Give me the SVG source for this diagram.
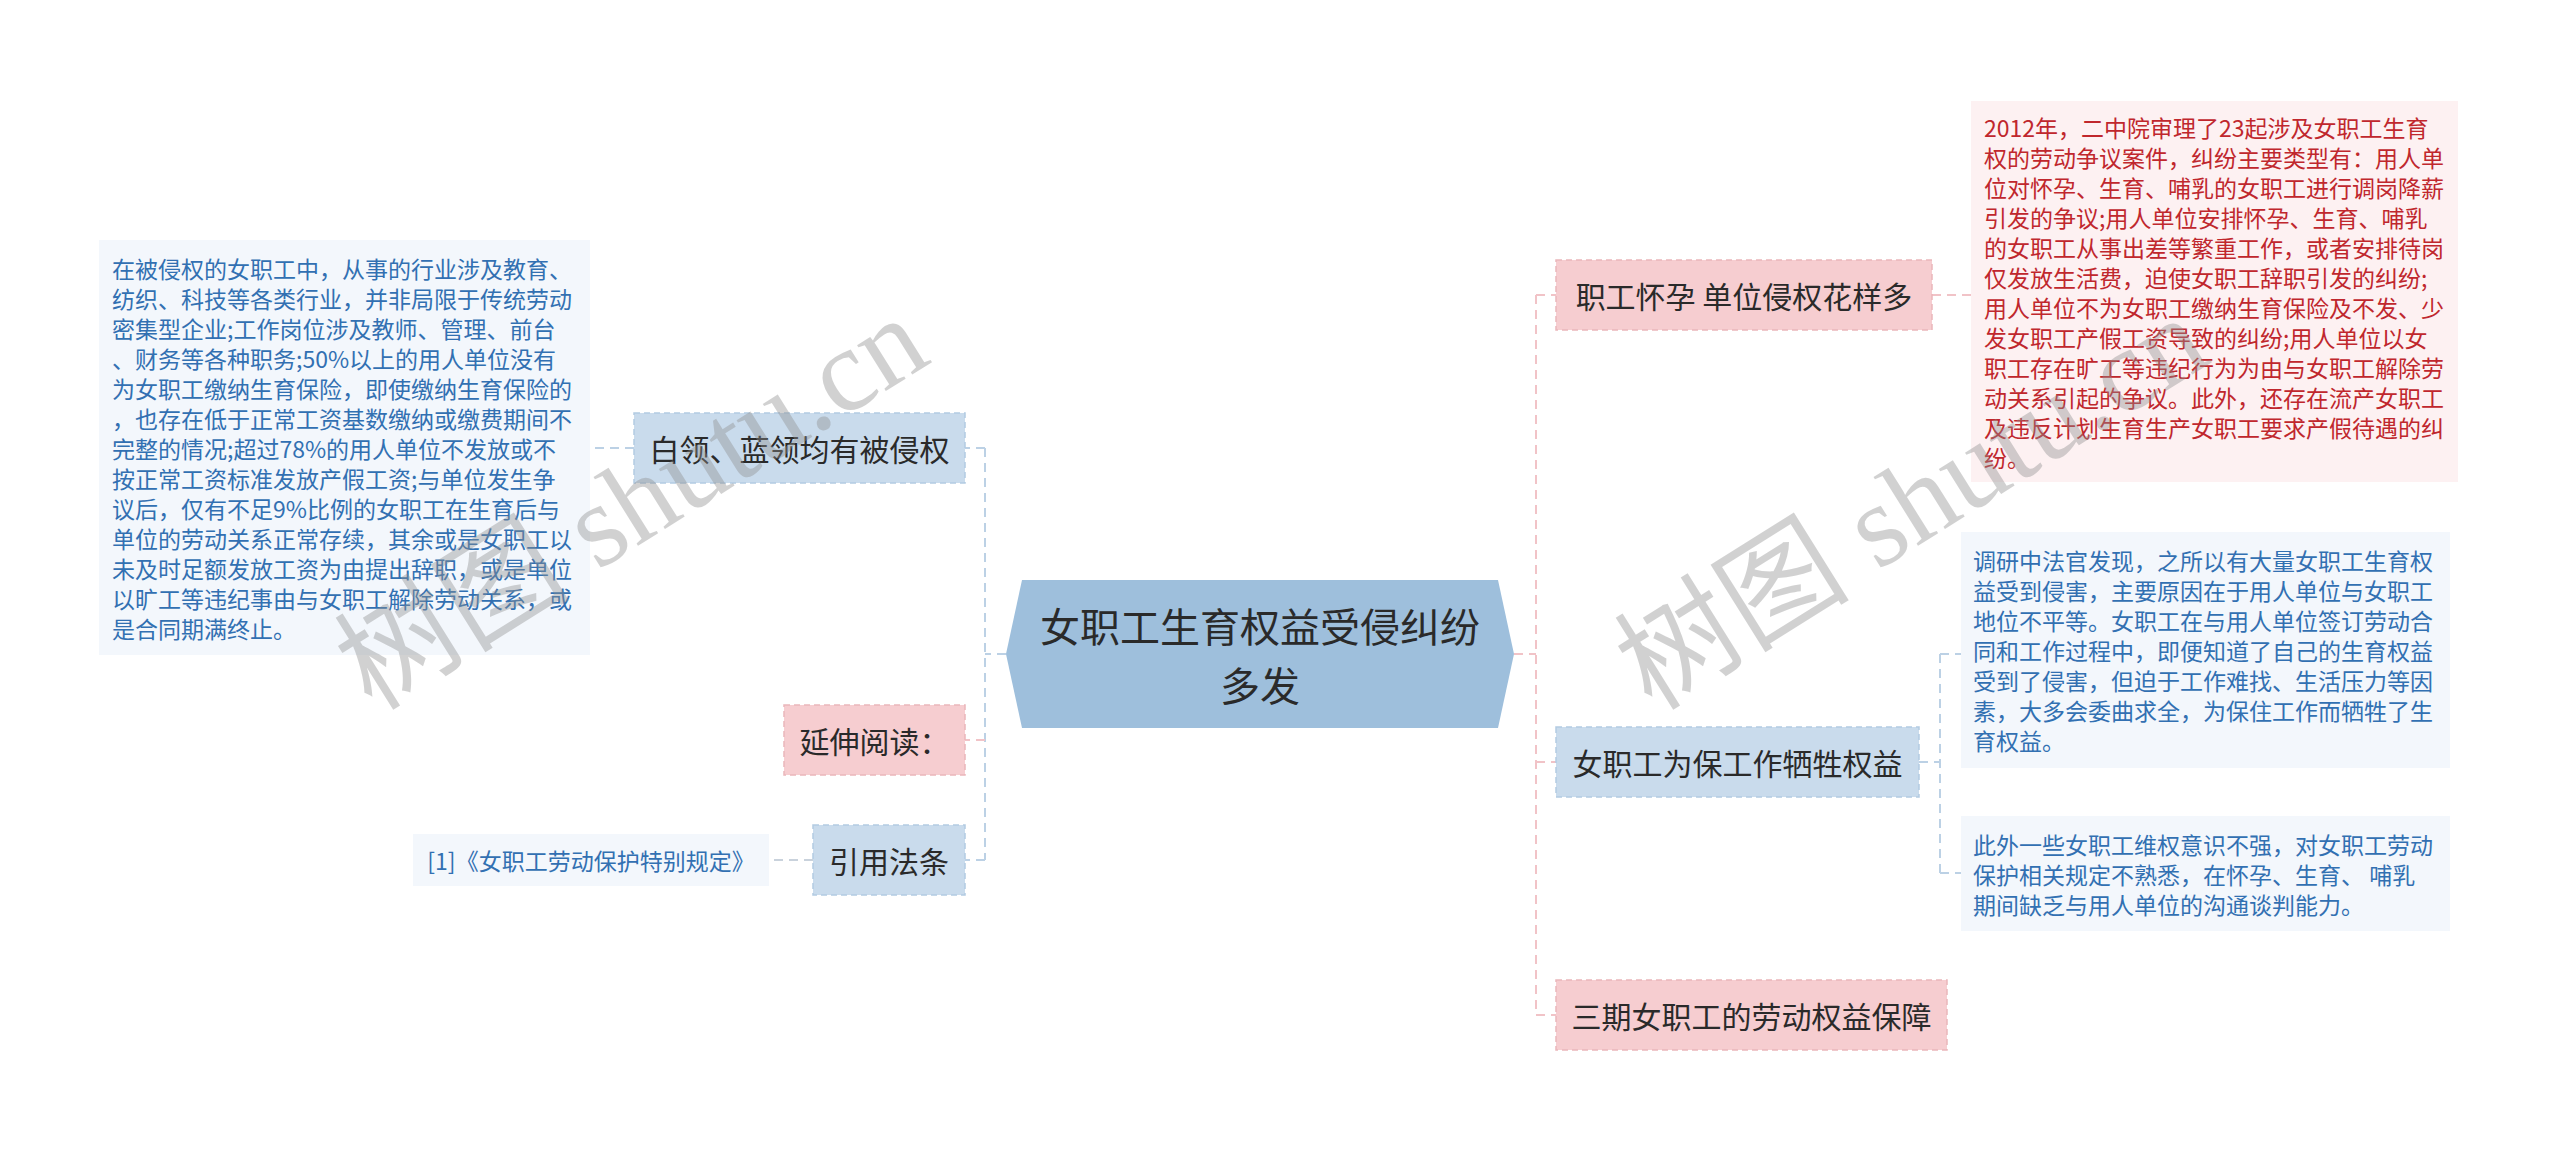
<svg xmlns="http://www.w3.org/2000/svg" width="2560" height="1151" viewBox="0 0 2560 1151">
<style>
.t{font-family:"Noto Sans CJK SC","Liberation Sans",sans-serif;}
.node{font-size:30px;fill:#2a2a2a;}
.blue{fill:#c9dbec;stroke:#b3cbe2;stroke-width:1.5;stroke-dasharray:6,4;}
.pink{fill:#f6cdd0;stroke:#eab7bb;stroke-width:1.5;stroke-dasharray:6,4;}
.lbox{fill:#f3f7fc;}
.rbox{fill:#fdf1f2;}
.bt{font-size:23px;fill:#3270b2;}
.rt{font-size:23px;fill:#c0272d;}
.cb{fill:none;stroke:#bcd1e5;stroke-width:2;stroke-dasharray:9,6;}
.cp{fill:none;stroke:#f1c3c7;stroke-width:2;stroke-dasharray:9,6;}
.cg{fill:none;stroke:#c9d2dc;stroke-width:2;stroke-dasharray:9,6;}
.wm{font-family:"Liberation Serif","Noto Sans CJK SC",serif;font-size:118px;fill:#8f8f8f;opacity:0.4;}
</style>
<rect width="2560" height="1151" fill="#ffffff"/>
<g id="connectors">
<path class="cb" d="M1006,654 H985 M985,448 V860 M985,448 H965 M985,860 H965"/>
<path class="cp" d="M985,740 H965"/>
<path class="cb" d="M634,448 H590"/>
<path class="cg" d="M813,860 H769"/>
<path class="cp" d="M1514,654 H1536 M1536,295 V1015 M1536,295 H1556 M1536,762 H1556 M1536,1015 H1556"/>
<path class="cp" d="M1932,295 H1971"/>
<path class="cb" d="M1919,762 H1940 M1940,654 V873 M1940,654 H1961 M1940,873 H1961"/>
</g>
<g id="center">
<polygon points="1006,654 1022,580 1498,580 1514,654 1498,728 1022,728" fill="#9ebfdc"/>
<text class="t" x="1260" y="625" font-size="40" fill="#2a2a2a" text-anchor="middle" dominant-baseline="central">女职工生育权益受侵纠纷</text>
<text class="t" x="1260" y="684" font-size="40" fill="#2a2a2a" text-anchor="middle" dominant-baseline="central">多发</text>
</g>
<g id="n-bailing">
<rect class="blue" x="634" y="413" width="331" height="70"/>
<text class="t node" x="799.5" y="448" text-anchor="middle" dominant-baseline="central">白领、蓝领均有被侵权</text>
</g>
<g id="n-bailing-detail">
<rect class="lbox" x="99" y="240" width="491" height="415"/>
<text class="t bt" dominant-baseline="central">
<tspan x="112" y="267.5">在被侵权的女职工中，从事的行业涉及教育、</tspan>
<tspan x="112" y="297.5">纺织、科技等各类行业，并非局限于传统劳动</tspan>
<tspan x="112" y="327.5">密集型企业;工作岗位涉及教师、管理、前台</tspan>
<tspan x="112" y="357.5">、财务等各种职务;50%以上的用人单位没有</tspan>
<tspan x="112" y="387.5">为女职工缴纳生育保险，即使缴纳生育保险的</tspan>
<tspan x="112" y="417.5">，也存在低于正常工资基数缴纳或缴费期间不</tspan>
<tspan x="112" y="447.5">完整的情况;超过78%的用人单位不发放或不</tspan>
<tspan x="112" y="477.5">按正常工资标准发放产假工资;与单位发生争</tspan>
<tspan x="112" y="507.5">议后，仅有不足9%比例的女职工在生育后与</tspan>
<tspan x="112" y="537.5">单位的劳动关系正常存续，其余或是女职工以</tspan>
<tspan x="112" y="567.5">未及时足额发放工资为由提出辞职，或是单位</tspan>
<tspan x="112" y="597.5">以旷工等违纪事由与女职工解除劳动关系，或</tspan>
<tspan x="112" y="627.5">是合同期满终止。</tspan>
</text>
</g>
<g id="n-yanshen">
<rect class="pink" x="784" y="705" width="181" height="70"/>
<text class="t node" x="874.5" y="740" text-anchor="middle" dominant-baseline="central">延伸阅读：</text>
</g>
<g id="n-yinyong">
<rect class="blue" x="813" y="825" width="152" height="70"/>
<text class="t node" x="889" y="860" text-anchor="middle" dominant-baseline="central">引用法条</text>
</g>
<g id="n-citation">
<rect class="lbox" x="413" y="834" width="356" height="52"/>
<text class="t bt" x="591" y="860" font-size="22.5" text-anchor="middle" dominant-baseline="central">[1]《女职工劳动保护特别规定》</text>
</g>
<g id="n-huaiyun">
<rect class="pink" x="1556" y="260" width="376" height="70"/>
<text class="t node" x="1744" y="295" text-anchor="middle" dominant-baseline="central">职工怀孕 单位侵权花样多</text>
</g>
<g id="n-huaiyun-detail">
<rect class="rbox" x="1971" y="101" width="487" height="381"/>
<text class="t rt" dominant-baseline="central">
<tspan x="1984" y="126.5">2012年，二中院审理了23起涉及女职工生育</tspan>
<tspan x="1984" y="156.5">权的劳动争议案件，纠纷主要类型有：用人单</tspan>
<tspan x="1984" y="186.5">位对怀孕、生育、哺乳的女职工进行调岗降薪</tspan>
<tspan x="1984" y="216.5">引发的争议;用人单位安排怀孕、生育、哺乳</tspan>
<tspan x="1984" y="246.5">的女职工从事出差等繁重工作，或者安排待岗</tspan>
<tspan x="1984" y="276.5">仅发放生活费，迫使女职工辞职引发的纠纷;</tspan>
<tspan x="1984" y="306.5">用人单位不为女职工缴纳生育保险及不发、少</tspan>
<tspan x="1984" y="336.5">发女职工产假工资导致的纠纷;用人单位以女</tspan>
<tspan x="1984" y="366.5">职工存在旷工等违纪行为为由与女职工解除劳</tspan>
<tspan x="1984" y="396.5">动关系引起的争议。此外，还存在流产女职工</tspan>
<tspan x="1984" y="426.5">及违反计划生育生产女职工要求产假待遇的纠</tspan>
<tspan x="1984" y="456.5">纷。</tspan>
</text>
</g>
<g id="n-xisheng">
<rect class="blue" x="1556" y="727" width="363" height="70"/>
<text class="t node" x="1737.5" y="762" text-anchor="middle" dominant-baseline="central">女职工为保工作牺牲权益</text>
</g>
<g id="n-xisheng-detail1">
<rect class="lbox" x="1961" y="532" width="489" height="236"/>
<text class="t bt" dominant-baseline="central">
<tspan x="1973" y="560">调研中法官发现，之所以有大量女职工生育权</tspan>
<tspan x="1973" y="590">益受到侵害，主要原因在于用人单位与女职工</tspan>
<tspan x="1973" y="620">地位不平等。女职工在与用人单位签订劳动合</tspan>
<tspan x="1973" y="650">同和工作过程中，即便知道了自己的生育权益</tspan>
<tspan x="1973" y="680">受到了侵害，但迫于工作难找、生活压力等因</tspan>
<tspan x="1973" y="710">素，大多会委曲求全，为保住工作而牺牲了生</tspan>
<tspan x="1973" y="740">育权益。</tspan>
</text>
</g>
<g id="n-xisheng-detail2">
<rect class="lbox" x="1961" y="816" width="489" height="115"/>
<text class="t bt" dominant-baseline="central">
<tspan x="1973" y="843.5">此外一些女职工维权意识不强，对女职工劳动</tspan>
<tspan x="1973" y="873.5">保护相关规定不熟悉，在怀孕、生育、 哺乳</tspan>
<tspan x="1973" y="903.5">期间缺乏与用人单位的沟通谈判能力。</tspan>
</text>
</g>
<g id="n-sanqi">
<rect class="pink" x="1556" y="980" width="391" height="70"/>
<text class="t node" x="1751.5" y="1015" text-anchor="middle" dominant-baseline="central">三期女职工的劳动权益保障</text>
</g>
<g id="watermarks">
<text class="wm" transform="translate(372,712) rotate(-32)">树图 shutu.cn</text>
<text class="wm" transform="translate(1652,712) rotate(-32)">树图 shutu.cn</text>
</g>
</svg>
